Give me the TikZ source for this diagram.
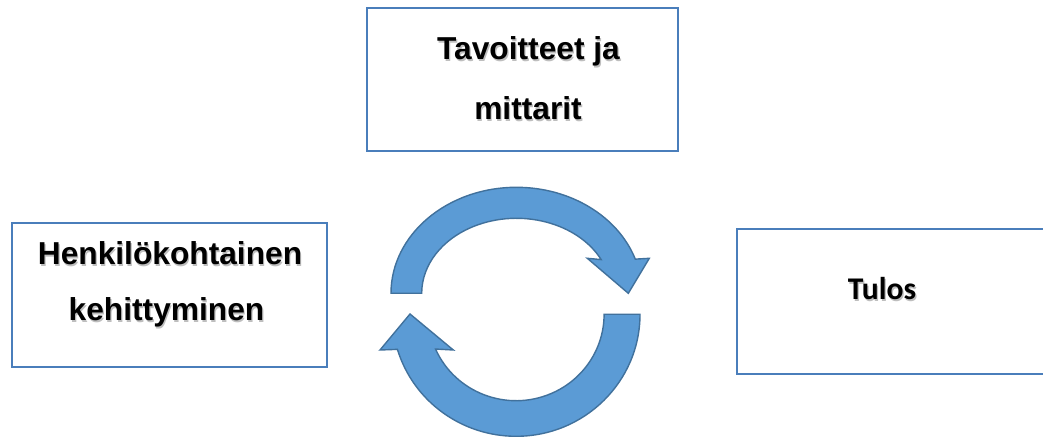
\documentclass[tikz,border=0pt]{standalone}
\usepackage{fontspec}
\setmainfont{Liberation Sans}
\newfontfamily\calfont{Carlito}
\usetikzlibrary{calc}
\definecolor{boxline}{HTML}{4A7EBB}
\definecolor{arrowfill}{HTML}{5B9BD5}
\definecolor{arrowline}{HTML}{41719C}
\definecolor{textshade}{HTML}{BEBEBE}

\begin{document}
\begin{tikzpicture}[x=1pt,y=1pt,
  frame/.style={draw=boxline, line width=2.4pt, fill=white, inner sep=0pt, anchor=south west},
  word/.style={font=\fontsize{31.7}{38}\selectfont\bfseries, anchor=base, inner sep=0pt},
  calword/.style={font=\calfont\fontsize{31.6}{38}\selectfont\bfseries, anchor=base, inner sep=0pt},
  shade/.style={text=textshade},
  cyclearrow/.style={fill=arrowfill, draw=arrowline, line width=1.4pt, line join=miter}]

  % page area
  \clip (0,0) rectangle (1043,436);
  \fill[white] (0,0) rectangle (1043,436);

  % three boxes
  \node[frame, minimum width=311pt, minimum height=143pt] (goals) at (366,284) {};
  \node[frame, minimum width=315pt, minimum height=144pt] (growth) at (11,68) {};
  \node[frame, minimum width=330pt, minimum height=145pt] (result) at (736,61) {};

  % box texts, each with a soft drop shade
  \node[word, shade] (goalsAs) at (529.7,374.8) {Tavoitteet ja};
  \node[word] (goalsA) at (528.5,376) {Tavoitteet ja};
  \node[word, shade] (goalsBs) at (529.2,314.8) {mittarit};
  \node[word] (goalsB) at (528,316) {mittarit};

  \node[word, shade] (growthAs) at (171.2,169.8) {Henkilökohtainen};
  \node[word] (growthA) at (170,171) {Henkilökohtainen};
  \node[word, shade] (growthBs) at (167.7,113.8) {kehittyminen};
  \node[word] (growthB) at (166.5,115) {kehittyminen};

  \node[calword, shade] (results) at (883.2,134.8) {Tulos};
  \node[calword] (resultt) at (882,136) {Tulos};

  % centres of the two curved arrows
  \coordinate (cu) at (516.5,142.7);
  \coordinate (cl) at (516.1,121.7);

  % upper arrow, running clockwise towards the right
  \filldraw[cyclearrow]
    ($(cu)+(180:125.5pt and 106pt)$)
      arc[start angle=180, end angle=18.8, x radius=125.5pt, y radius=106pt]
    -- (649.3,177.7) -- (628.3,142.7) -- (587.3,177.7)
    -- ($(cu)+(26.7:94.8pt and 75pt)$)
      arc[start angle=26.7, end angle=180, x radius=94.8pt, y radius=75pt]
    -- cycle;

  % lower arrow, running clockwise towards the left
  \filldraw[cyclearrow]
    ($(cl)+(0:123.9pt and 122pt)$)
      arc[start angle=0, end angle=-163.3, x radius=123.9pt, y radius=122pt]
    -- (380,86) -- (410,122) -- (453.3,86)
    -- ($(cl)+(-156.3:88pt and 86.4pt)$)
      arc[start angle=-156.3, end angle=0, x radius=88pt, y radius=86.4pt]
    -- cycle;
\end{tikzpicture}
\end{document}
